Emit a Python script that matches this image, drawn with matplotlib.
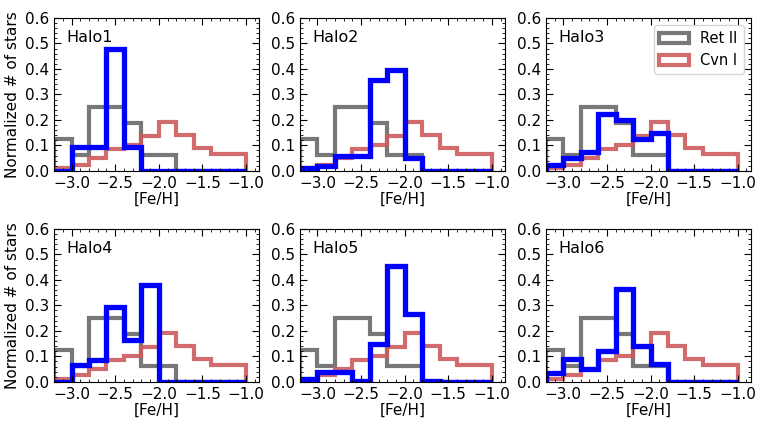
import numpy as np
import matplotlib
matplotlib.use("Agg")
import matplotlib.pyplot as plt
from matplotlib.patches import Patch
from matplotlib.ticker import AutoMinorLocator

# bin edges in [Fe/H]
bin_edges = np.round(np.arange(-3.2, -0.99, 0.2), 2)

ret2 = [0.125, 0.0625, 0.25, 0.25, 0.1875, 0.0625, 0.0625, 0.0, 0.0, 0.0, 0.0]
cvn1 = [0.01, 0.025, 0.05, 0.085, 0.10, 0.135, 0.19, 0.14, 0.09, 0.065, 0.065]

halo_names = ["Halo1", "Halo2", "Halo3", "Halo4", "Halo5", "Halo6"]
halo1 = [0.0, 0.095, 0.095, 0.48, 0.095, 0.0, 0.0, 0.0, 0.0, 0.0, 0.0]
halo2 = [0.01, 0.02, 0.06, 0.06, 0.355, 0.395, 0.05, 0.0, 0.0, 0.0, 0.0]
halo3 = [0.025, 0.05, 0.075, 0.225, 0.20, 0.125, 0.15, 0.0, 0.0, 0.0, 0.0]
halo4 = [0.0, 0.065, 0.085, 0.295, 0.165, 0.38, 0.0, 0.0, 0.0, 0.0, 0.0]
halo5 = [0.01, 0.04, 0.04, 0.005, 0.15, 0.455, 0.265, 0.005, 0.0, 0.0, 0.0]
halo6 = [0.035, 0.09, 0.05, 0.12, 0.365, 0.14, 0.07, 0.0, 0.0, 0.0, 0.0]
halos = [halo1, halo2, halo3, halo4, halo5, halo6]

plt.rcParams["font.size"] = 11

fig, axes = plt.subplots(2, 3, figsize=(7.63, 4.29), dpi=100)
fig.subplots_adjust(left=0.071, right=0.984, top=0.958, bottom=0.11,
                    wspace=0.2, hspace=0.38)

for i, ax in enumerate(axes.flat):
    ax.stairs(ret2, bin_edges, color="dimgray", lw=3, alpha=0.9)
    ax.stairs(cvn1, bin_edges, color="indianred", lw=3, alpha=0.9)
    ax.stairs(halos[i], bin_edges, color="blue", lw=3.8)

    ax.set_xlim(-3.2, -0.85)
    ax.set_ylim(0, 0.6)
    ax.set_xticks([-3.0, -2.5, -2.0, -1.5, -1.0])
    ax.set_yticks(np.arange(0, 0.61, 0.1))
    ax.xaxis.set_minor_locator(AutoMinorLocator(5))
    ax.yaxis.set_minor_locator(AutoMinorLocator(5))
    ax.tick_params(which="both", direction="in", top=True, right=True)
    ax.tick_params(which="major", length=5)
    ax.tick_params(which="minor", length=2.5)
    ax.set_xlabel("[Fe/H]", labelpad=1)
    ax.text(0.06, 0.92, halo_names[i], transform=ax.transAxes,
            ha="left", va="top", fontsize=11.5)
    if i % 3 == 0:
        ax.set_ylabel("Normalized # of stars")
    if i == 2:
        handles = [Patch(facecolor="none", edgecolor="dimgray", lw=3, alpha=0.9, label="Ret II"),
                   Patch(facecolor="none", edgecolor="indianred", lw=3, alpha=0.9, label="Cvn I")]
        ax.legend(handles=handles, loc="upper right", fontsize=10.5, handlelength=2.0)

fig.savefig("out.png", dpi=100)
